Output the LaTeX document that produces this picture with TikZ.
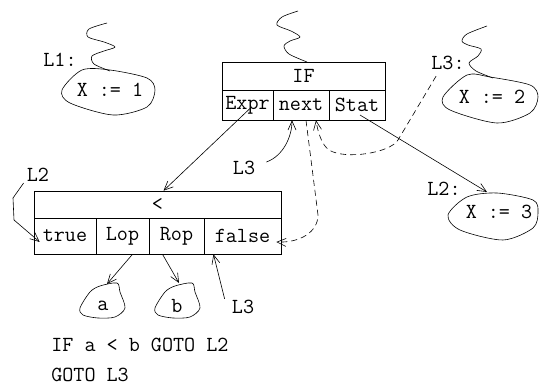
\documentclass[tikz,border=0pt]{standalone}
\usepackage{fontspec}
\usetikzlibrary{arrows.meta}

\begin{document}
\begin{tikzpicture}[x=1pt,y=-1pt,line width=0.6pt,
    every node/.style={font=\ttfamily\fontsize{21.5}{23}\selectfont, inner sep=1pt},
    cell/.style={draw, inner sep=0pt, minimum height=#1},
    arr/.style={-{Straight Barb[length=9pt,width=8pt]}},
    dashline/.style={dash pattern=on 6pt off 4pt}]
    \useasboundingbox (0,0) rectangle (539,385);

    \node[cell=28pt, minimum width=163pt] (if) at (303.5,76) {IF};
    \foreach \n/\x/\w/\t in {expr/247.5/51/Expr, next/301/56/next, stat/357/56/Stat}{
        \node[cell=30pt, minimum width=\w pt] (\n) at (\x,105) {\t};
    }

    \node[cell=27pt, minimum width=247pt] (lt) at (157.5,204.5) {<};
    \foreach \n/\x/\w/\t in {true/65/62/true, lop/122.5/53/Lop, rop/176.5/55/Rop, false/242.5/77/false}{
        \node[cell=36pt, minimum width=\w pt] (\n) at (\x,236) {\t};
    }

    \node (x1) at (110,90) {X := 1};
    \node (x2) at (492,97) {X := 2};
    \node (x3) at (499,212) {X := 3};
    \node (a) at (103,306) {a};
    \node (b) at (177,306) {b};

    \draw plot[smooth cycle] coordinates {(62,90) (82,70) (110,70) (147,78) (155,90) (147,107) (113,115) (70,103)};
    \draw plot[smooth cycle] coordinates {(443,97) (467,75) (490,77) (530,85) (538,97) (530,113) (497,123) (450,110)};
    \draw plot[smooth cycle] coordinates {(448,215) (467,197) (497,193) (533,200) (538,212) (533,228) (503,240) (460,230)};
    \draw plot[smooth cycle] coordinates {(80,308) (90,292) (100,286) (117,283) (120,292) (125,308) (115,317) (98,318) (83,315)};
    \draw plot[smooth cycle] coordinates {(155,308) (165,292) (175,286) (192,283) (195,292) (200,308) (190,317) (173,318) (158,315)};

    \draw plot[smooth] coordinates {(110,71) (94,64) (92,56) (104,51) (115,47) (104,42) (88,37) (89,29) (107,23)};
    \draw plot[smooth] coordinates {(307,62) (289,54) (284,46) (290,41) (300,37) (291,31) (277,25) (282,17) (298,11)};
    \draw plot[smooth] coordinates {(493,78) (476,71) (469,63) (478,56) (481,49) (468,45) (462,41) (467,34) (487,26)};

    \node (l1) at (60,60) {L1:};
    \node (l3a) at (448,63) {L3:};
    \node (l2b) at (444,189) {L2:};
    \node (l2a) at (38,175) {L2};
    \node (l3b) at (244,168) {L3};
    \node (l3c) at (243,307) {L3};

    \coordinate (x3in) at (487,192);
    \coordinate (ain) at (107,284);
    \coordinate (bin) at (179,283);

    \draw[arr] ([shift={(3,3)}]expr.center) -- ([xshift=6pt]lt.north);
    \draw[arr] ([shift={(3,10)}]stat.center) -- (x3in);
    \draw[arr] ([xshift=-2pt]l2a.south west) -- (13,198) -- (14,220) -- ([shift={(6,6)}]true.west);
    \draw[arr] ([xshift=10pt]lop.south) -- (ain);
    \draw[arr] ([xshift=-14pt]rop.south) -- (bin);
    \draw[arr] ([xshift=-6pt]l3c.north west) -- ([xshift=-29pt]false.south);
    \draw[arr] ([shift={(10,-6)}]l3b.east) .. controls +(17,-6) and +(0,16) .. ([xshift=-9pt]next.south);

    \draw[arr, dashline] ([xshift=5pt]next.south) -- (318,215) .. controls (318,232) and (300,243) .. ([shift={(-5,6)}]false.east);
    \draw[arr, dashline] ([shift={(6,5)}]l3a.south west) -- (398,140) .. controls (390,153) and (345,160) .. (329,150)
        .. controls (322,145) and (318,133) .. ([xshift=15pt]next.south);

    \node[anchor=west] (code1) at (50,345) {IF a < b GOTO L2};
    \node[anchor=west] (code2) at (50,375) {GOTO L3};
\end{tikzpicture}
\end{document}
